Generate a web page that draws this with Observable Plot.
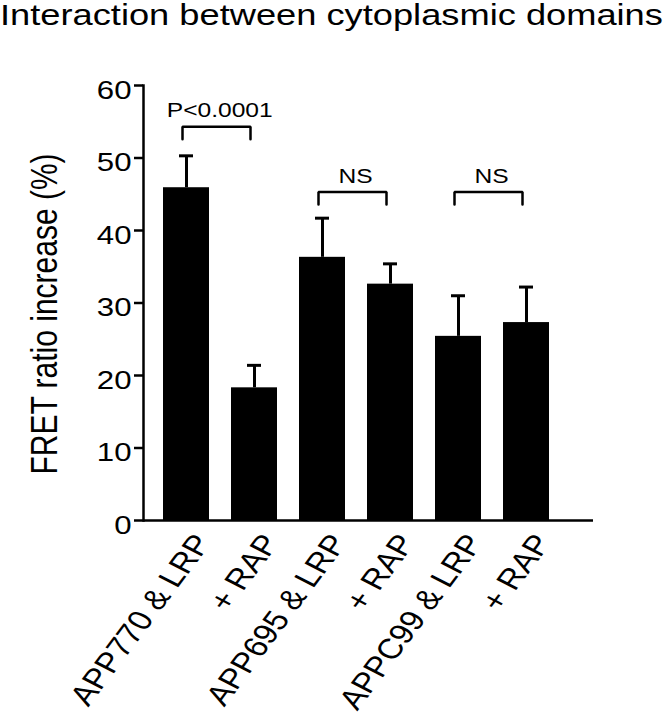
<!DOCTYPE html>
<html><head><meta charset="utf-8">
<script src="https://cdn.jsdelivr.net/npm/d3@7"></script>
<script src="https://cdn.jsdelivr.net/npm/@observablehq/plot@0.6"></script>
<style>
body{margin:0;background:#fff;}
#title{height:36px;font-family:"Liberation Sans",Arial,sans-serif;font-size:29px;line-height:29px;padding-top:1px;box-sizing:border-box;white-space:nowrap;transform:scaleX(1.25);transform-origin:0 0;color:#000;}
</style></head><body>
<div id="title"></div>
<div id="chart"></div>
<script>
const titleText = "Interaction between cytoplasmic domains";
const yLabel = "FRET ratio increase (%)";
const labels = ["APP770 & LRP", "+ RAP", "APP695 & LRP", "+ RAP", "APPC99 & LRP", "+ RAP"];
const means  = [45.9, 18.3, 36.3, 32.6, 25.4, 27.3];
const errors = [4.4, 3.1, 5.4, 2.8, 5.6, 4.9];
const yTicks = [0, 10, 20, 30, 40, 50, 60];
const bracketFrom = [0, 2, 4];
const bracketTo   = [1, 3, 5];
const bracketTop  = [54.3, 45.3, 45.3];
const bracketTip  = 1.7;
const bracketText = ["P<0.0001", "NS", "NS"];

document.getElementById("title").textContent = titleText;

const W = 666, H = 683, ML = 143, MR = 73, MT = 49, MB = 199;
const idx = d3.range(labels.length);
const xOpts = {type: "band", domain: idx, paddingInner: 0.327, paddingOuter: 0.453, align: 0.306};
const xs = Plot.scale({x: {...xOpts, range: [ML, W - MR]}});
const half = (xs.apply(1) - xs.apply(0)) / 2;

const bracketPts = bracketFrom.flatMap((a, k) => [
  {id: k, x: a, y: bracketTop[k] - bracketTip},
  {id: k, x: a, y: bracketTop[k]},
  {id: k, x: bracketTo[k], y: bracketTop[k]},
  {id: k, x: bracketTo[k], y: bracketTop[k] - bracketTip}
]);
const bk = bracketFrom.map((a, k) => k);

const plot = Plot.plot({
  width: W, height: H,
  marginLeft: ML, marginRight: MR, marginTop: MT, marginBottom: MB,
  style: {fontFamily: '"Liberation Sans", Arial, sans-serif', fontSize: "20px", background: "white", color: "black"},
  x: {...xOpts, axis: null},
  y: {domain: [0, 60], axis: null},
  marks: [
    Plot.barY(idx, {x: i => i, y: i => means[i], fill: "black"}),
    Plot.ruleX(idx, {x: i => i, y1: i => means[i], y2: i => means[i] + errors[i], stroke: "black", strokeWidth: 3}),
    Plot.tickY(idx, {x: i => i, y: i => means[i] + errors[i], stroke: "black", strokeWidth: 3, insetLeft: 16, insetRight: 16}),
    Plot.line(bracketPts, {x: "x", y: "y", z: "id", stroke: "black", strokeWidth: 2.5, dx: -4, strokeLinejoin: "miter"}),
    Plot.text(bk, {x: k => bracketFrom[k], y: k => bracketTop[k] + 1.3, text: k => bracketText[k], dx: half - 1, lineAnchor: "bottom", fontSize: 20.5}),
    Plot.axisY(yTicks, {anchor: "left", tickSize: 9, tickFormat: () => "", strokeWidth: 2.5, label: null}),
    Plot.text(yTicks, {y: d => d, text: d => String(d), frameAnchor: "left", textAnchor: "end", dx: -12, dy: 5, fontSize: 26}),
    Plot.frame({anchor: "left", strokeWidth: 2.5}),
    Plot.ruleY([0], {strokeWidth: 2.5}),
    Plot.text(idx, {x: i => i, text: i => labels[i], frameAnchor: "bottom", rotate: -58, textAnchor: "end", lineAnchor: "top", dx: 5, dy: 11, fontSize: 28.5}),
    Plot.text([yLabel], {frameAnchor: "left", textAnchor: "middle", dx: -98, dy: 11, rotate: -90, lineAnchor: "middle", fontSize: 30})
  ]
});

const S = 1.2;
plot.querySelectorAll("text").forEach(t => {
  const tr = t.getAttribute("transform");
  if (!tr) return;
  t.setAttribute("transform", tr.includes("rotate(") ? tr.replace("rotate(", `scale(${S},1) rotate(`) : tr + ` scale(${S},1)`);
});
document.getElementById("chart").appendChild(plot);
</script>
</body></html>
